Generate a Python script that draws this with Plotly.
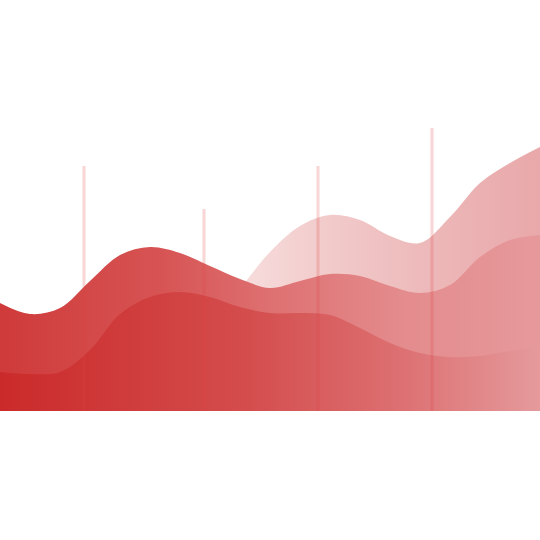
import plotly.graph_objects as go

# shared x grid and layer heights above the baseline
x = [0, 30, 60, 90, 120, 150, 180, 210, 240, 270, 300, 330, 360, 390, 420, 450, 480, 510, 540]
back = [13, 14, 17, 21, 31, 46, 66, 93, 123, 159, 185, 196, 191, 175, 168, 194, 228, 248, 264]
middle = [108, 97, 103, 130, 156, 164, 158, 145, 132, 123, 130, 137, 135, 125, 118, 126, 154, 171, 176]
front = [39, 37, 39, 61, 97, 114, 119, 114, 104, 98, 98, 96, 83, 68, 58, 54, 55, 60, 64]

# thin vertical markers
marker_x = [84, 204, 318, 432]
marker_h = [245, 202, 245, 283]

fig = go.Figure()

fig.add_trace(go.Scatter(
    x=x, y=back, mode='lines', line=dict(width=0, shape='spline', smoothing=1.0),
    fill='tozeroy',
    fillgradient=dict(type='horizontal', colorscale=[
        [0, '#fbeeee'], [0.45, '#f7dcdc'], [0.6, '#f2cbcb'], [0.83, '#ecb5b6'], [1, '#e9a8aa']]),
    hoverinfo='skip'))

fig.add_trace(go.Scatter(
    x=x, y=middle, mode='lines', line=dict(width=0, shape='spline', smoothing=1.0),
    fill='tozeroy',
    fillgradient=dict(type='horizontal', colorscale=[
        [0, '#cf3a3a'], [0.3, '#d75454'], [0.5, '#de7071'], [0.75, '#e48c8e'], [1, '#e6999b']]),
    hoverinfo='skip'))

fig.add_trace(go.Scatter(
    x=x, y=front, mode='lines', line=dict(width=0, shape='spline', smoothing=1.0),
    fill='tozeroy',
    fillgradient=dict(type='horizontal', colorscale=[
        [0, '#cb2a2a'], [0.45, '#d44c4c'], [0.75, '#dd7173'], [1, '#e59a9c']]),
    hoverinfo='skip'))

lx, ly = [], []
for mx, mh in zip(marker_x, marker_h):
    lx += [mx, mx, None]
    ly += [0, mh, None]
fig.add_trace(go.Scatter(x=lx, y=ly, mode='lines',
                         line=dict(color='rgba(222,70,70,0.22)', width=3),
                         hoverinfo='skip'))

fig.update_layout(
    width=540, height=540,
    margin=dict(l=0, r=0, t=0, b=0),
    paper_bgcolor='white', plot_bgcolor='white',
    showlegend=False,
    xaxis=dict(range=[0, 540], visible=False, fixedrange=True),
    yaxis=dict(range=[-129, 411], visible=False, fixedrange=True),
)

# page has a default body margin; drop it so the figure fills the window
fix = ("document.body.style.margin='0';"
       "document.body.style.overflow='hidden';"
       "Plotly.Plots.resize(document.getElementById('{plot_id}'));")

fig.write_html("out.html", config={'displayModeBar': False}, post_script=fix)
